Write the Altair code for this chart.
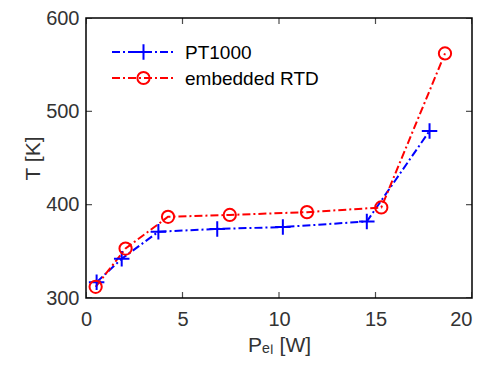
import altair as alt
import pandas as pd

# data
pt_x = [0.55, 1.85, 3.75, 6.8, 10.2, 14.55, 17.8]
pt_y = [317, 342, 371, 374, 376, 382, 479]
rtd_x = [0.5, 2.05, 4.25, 7.45, 11.45, 15.3, 18.6]
rtd_y = [312, 353, 387, 389, 392, 397, 562]
x_ticks = [0, 5, 10, 15, 20]
y_ticks = [300, 400, 500, 600]
series_names = ["PT1000", "embedded RTD"]

W, H = 386, 280
FONT = "Liberation Sans"
BLUE = "#0000ff"
RED = "#ff0000"
DASH = [8, 3, 2, 3]
PLUS = "M-1,0H1M0,-1V1"

pt = pd.DataFrame({"x": pt_x, "y": pt_y})
rtd = pd.DataFrame({"x": rtd_x, "y": rtd_y})
xt = pd.DataFrame({"x": x_ticks})
yt = pd.DataFrame({"y": y_ticks})

xs = alt.Scale(domain=[0, 20], nice=False, zero=False)
ys = alt.Scale(domain=[300, 600], nice=False, zero=False)

ax_common = dict(tickSize=0, domain=False, grid=False, labelFlush=False,
                 labelFont=FONT, labelFontSize=20, labelColor="#333333",
                 titleFont=FONT, titleFontSize=21, titleColor="#333333", titleFontWeight="normal")

xenc = alt.X("x:Q", scale=xs, axis=alt.Axis(
    values=x_ticks, title="Pₑₗ [W]", labelPadding=11, titlePadding=5,
    labelAlign=alt.expr("datum.value == 20 ? 'right' : 'center'"), **ax_common))
yenc = alt.Y("y:Q", scale=ys, axis=alt.Axis(values=y_ticks, title="T [K]", labelPadding=7,
                                              titlePadding=2, **ax_common))

pt_line = alt.Chart(pt).mark_line(color=BLUE, strokeWidth=2, strokeDash=DASH).encode(x=xenc, y=yenc)
pt_pts = alt.Chart(pt).mark_point(shape=PLUS, color=BLUE, size=240, strokeWidth=2, filled=False,
                                   opacity=1).encode(x="x:Q", y="y:Q")
rtd_line = alt.Chart(rtd).mark_line(color=RED, strokeWidth=2, strokeDash=DASH).encode(x="x:Q", y="y:Q")
rtd_pts = alt.Chart(rtd).mark_point(shape="circle", color=RED, size=150, strokeWidth=2, filled=False,
                                     opacity=1).encode(x="x:Q", y="y:Q")

# inward ticks on all four sides (clipped to the plot area)
tk = dict(color="black", thickness=1.2, size=12, clip=True)
xt_bot = alt.Chart(xt).mark_tick(orient="vertical", **tk).encode(x="x:Q", y=alt.value(H))
xt_top = alt.Chart(xt).mark_tick(orient="vertical", **tk).encode(x="x:Q", y=alt.value(0))
yt_left = alt.Chart(yt).mark_tick(orient="horizontal", **tk).encode(y="y:Q", x=alt.value(0))
yt_right = alt.Chart(yt).mark_tick(orient="horizontal", **tk).encode(y="y:Q", x=alt.value(W))

# manual legend (line + marker + text), MATLAB style
def legend_entry(name, color, shape, size, ypix):
    d = pd.DataFrame({"name": [name]})
    r = alt.Chart(d).mark_rule(color=color, strokeWidth=2, strokeDash=DASH).encode(
        x=alt.value(26), x2=alt.value(89), y=alt.value(ypix))
    p = alt.Chart(d).mark_point(shape=shape, color=color, size=size, strokeWidth=2, filled=False,
                                opacity=1).encode(x=alt.value(57.5), y=alt.value(ypix))
    t = alt.Chart(d).mark_text(align="left", baseline="middle", font=FONT, fontSize=19,
                               color="black").encode(x=alt.value(99), y=alt.value(ypix + 1), text="name:N")
    return r + p + t

leg1 = legend_entry(series_names[0], BLUE, PLUS, 240, 34)
leg2 = legend_entry(series_names[1], RED, "circle", 150, 60)

chart = alt.layer(
    pt_line, rtd_line, pt_pts, rtd_pts, xt_bot, xt_top, yt_left, yt_right, leg1, leg2
).properties(
    width=W, height=H,
    padding={"left": 78, "top": 10, "right": 1, "bottom": 58},
    autosize=alt.AutoSizeParams(type="none"),
    background="white",
).configure_view(
    stroke="black", strokeWidth=1.5
)

chart.save("out.html", embed_options={"renderer": "svg", "actions": False})
